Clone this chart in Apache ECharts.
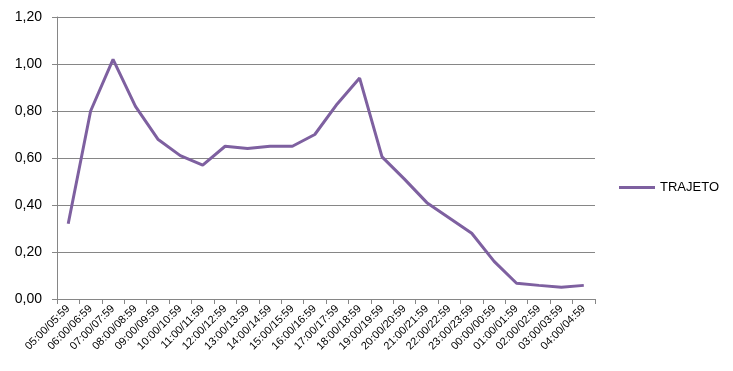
<!DOCTYPE html>
<html><head><meta charset="utf-8">
<script src="https://cdn.jsdelivr.net/npm/echarts@6/dist/echarts.min.js"></script>
<style>html,body{margin:0;padding:0;background:#fff}#c{width:733px;height:371px}</style>
</head><body><div id="c"></div>
<script>
const categories = ["05:00/05:59","06:00/06:59","07:00/07:59","08:00/08:59","09:00/09:59","10:00/10:59","11:00/11:59","12:00/12:59","13:00/13:59","14:00/14:59","15:00/15:59","16:00/16:59","17:00/17:59","18:00/18:59","19:00/19:59","20:00/20:59","21:00/21:59","22:00/22:59","23:00/23:59","00:00/00:59","01:00/01:59","02:00/02:59","03:00/03:59","04:00/04:59"];
const trajeto = [0.32,0.80,1.02,0.82,0.68,0.61,0.57,0.65,0.64,0.65,0.65,0.70,0.83,0.94,0.605,0.51,0.41,0.345,0.28,0.16,0.067,0.058,0.05,0.058];
const seriesName = "TRAJETO";
const chart = echarts.init(document.getElementById('c'));
chart.setOption({
  animation:false,
  textStyle:{fontFamily:'Liberation Sans'},
  grid:{left:57,right:138,top:17,bottom:72},
  legend:{
    data:[seriesName], orient:'vertical', left:614, top:176,
    itemWidth:36, itemHeight:3, itemGap:5,
    icon:'rect',
    textStyle:{fontSize:13,color:'#000',fontFamily:'Liberation Sans'}
  },
  xAxis:{
    type:'category', data:categories, boundaryGap:true,
    axisLine:{lineStyle:{color:'#868686',width:1}},
    axisTick:{show:true,alignWithLabel:false,length:5,lineStyle:{color:'#868686'}},
    axisLabel:{rotate:45,fontSize:11,color:'#000',interval:0,margin:8}
  },
  yAxis:{
    type:'value', min:0, max:1.2, interval:0.2,
    axisLine:{show:true,lineStyle:{color:'#868686'}},
    axisTick:{show:true,length:5,lineStyle:{color:'#868686'}},
    splitLine:{lineStyle:{color:'#868686',width:1}},
    axisLabel:{fontSize:14,color:'#000',margin:15,formatter:v=>v.toFixed(2).replace('.',',')}
  },
  series:[{
    name:seriesName, type:'line', data:trajeto, symbol:'none',
    lineStyle:{color:'#7E60A0',width:3}, itemStyle:{color:'#7E60A0'}
  }]
});
</script></body></html>
